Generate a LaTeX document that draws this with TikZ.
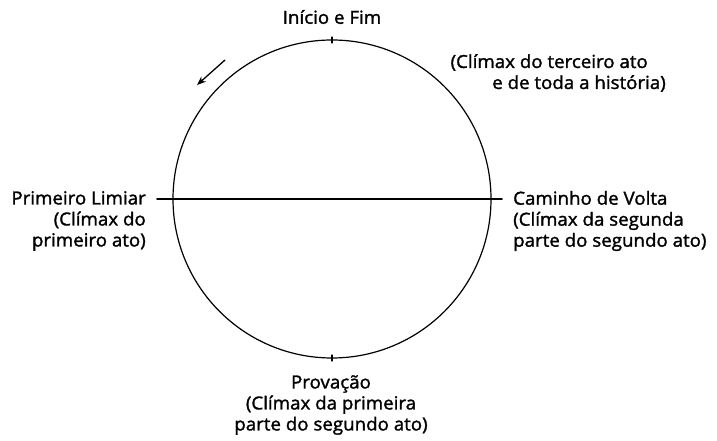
\documentclass[tikz,border=0pt]{standalone}
\usepackage{fontspec}
\setmainfont{Open Sans}[FakeStretch=1.04,FakeBold=1.6]
\usetikzlibrary{arrows.meta}
\begin{document}
\begin{tikzpicture}[x=1pt,y=1pt,line join=round,line cap=round,>={Stealth[length=9pt,width=7pt]},font=\fontsize{18}{21}\selectfont,
	lbl/.style={inner sep=0pt}]
	\useasboundingbox (0,0) rectangle (717,441);
	\def\r{159};
	\path
	(332,242) coordinate (O)
	(332,401) coordinate (T)
	(332,83) coordinate (B)
	(157,242) coordinate (W)
	(502,242) coordinate (E)
	(225,381) coordinate (P)
	(197,356) coordinate (Q);
	\draw[line width=1.2pt] (O) circle (\r);
	\draw[line width=1.8pt] (W)--(E);
	\draw[line width=1.2pt] ([yshift=3pt]T)--([yshift=-3pt]T) ([yshift=3pt]B)--([yshift=-3pt]B);
	\draw[->,line width=1.3pt] (P)--(Q);
	\node[lbl] (fim) at (332,424) {Início e Fim};
	\node[lbl,anchor=east,align=right] (terceiro) at (666,368) {(Clímax do terceiro ato\hspace*{18pt}\\e de toda a história)};
	\node[lbl,anchor=east,align=right] (limiar) at (146,220) {Primeiro Limiar\\(Clímax do\\primeiro ato)};
	\node[lbl,anchor=west,align=left] (volta) at (513,220) {Caminho de Volta\\(Clímax da segunda\\parte do segundo ato)};
	\node[lbl,align=center] (provacao) at (331,36) {Provação\\(Clímax da primeira\\parte do segundo ato)};
\end{tikzpicture}
\end{document}
